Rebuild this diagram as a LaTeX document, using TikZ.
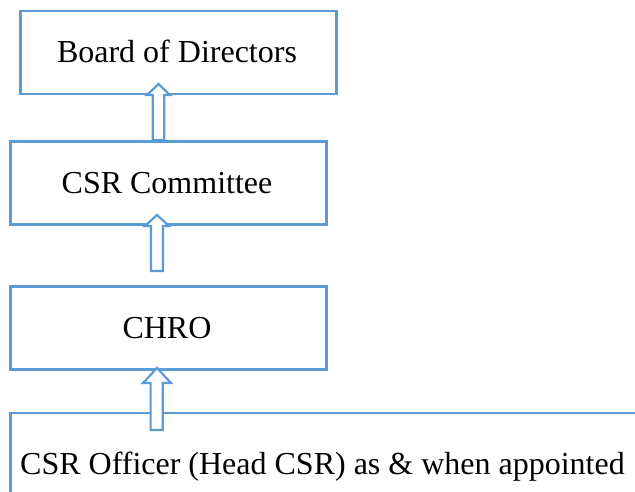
\documentclass[tikz,border=0pt]{standalone}
\usepackage{fontspec}
\setmainfont{Liberation Serif}
\definecolor{csrblue}{HTML}{5B9BD5}
\begin{document}
\begin{tikzpicture}[x=1pt,y=-1pt,
  box/.style={draw=csrblue, line width=2.6pt, anchor=north west, inner sep=0pt,
    minimum width=316pt, minimum height=83pt},
  lbl/.style={inner sep=0pt, font=\fontsize{32}{36}\selectfont},
  blockarrow/.style={draw=csrblue, line width=2.2pt, fill=white, line join=miter}]
\useasboundingbox (0,0) rectangle (635,491);
\clip (0,0) rectangle (635,491);
% boxes
\node[box] (a) at (19,9.5) {};
\node[box] (b) at (9,140) {};
\node[box] (c) at (9,285) {};
\node[box, minimum width=660pt, minimum height=120pt] (d) at (9,411.5) {};
% labels
\node[lbl, anchor=base] (alab) at (177,62.5) {Board of Directors};
\node[lbl, anchor=base] (blab) at (167,193) {CSR Committee};
\node[lbl, anchor=base] (clab) at (167,338) {CHRO};
\node[lbl, anchor=base west] (dlab) at (20,474) {CSR Officer (Head CSR) as \& when appointed};
% block arrows
\coordinate (t1) at (158.5,84);
\coordinate (t2) at (157,215);
\coordinate (t3) at (157,368);
\draw[blockarrow] (152.7,140) -- (152.7,95) -- (147,95) -- (t1) -- (170,95) -- (164.3,95) -- (164.3,140) -- cycle;
\draw[blockarrow] (151,271) -- (151,226) -- (145,226) -- (t2) -- (169,226) -- (163,226) -- (163,271) -- cycle;
\draw[blockarrow] (150.6,430) -- (150.6,383) -- (143,383) -- (t3) -- (171,383) -- (162.8,383) -- (162.8,430) -- cycle;
\end{tikzpicture}
\end{document}
